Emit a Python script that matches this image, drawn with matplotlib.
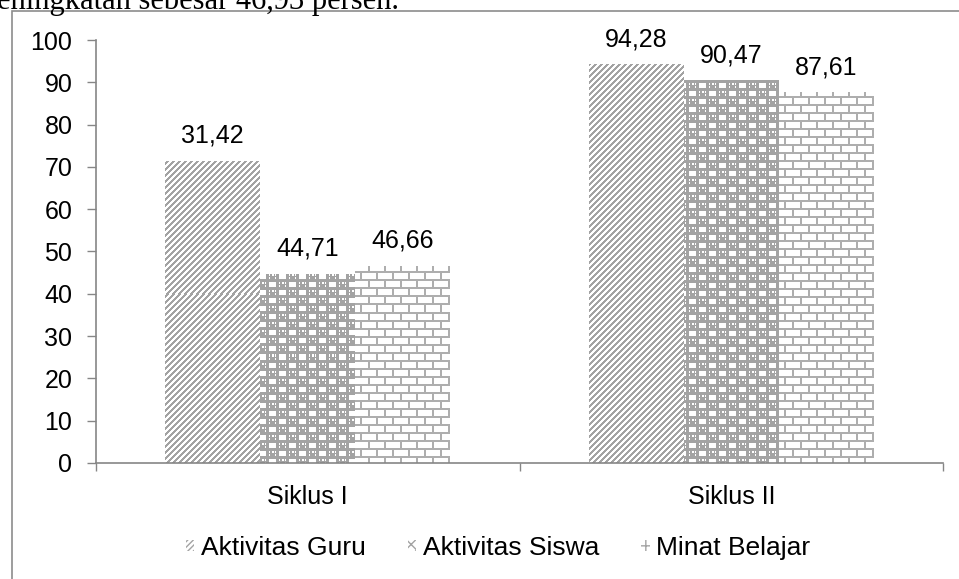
import numpy as np
import matplotlib
matplotlib.use('Agg')
import matplotlib.pyplot as plt
from matplotlib.patches import Rectangle

# Data
categories = ['Siklus I', 'Siklus II']
series_names = ['Aktivitas Guru', 'Aktivitas Siswa', 'Minat Belajar']
guru = [71.42, 94.28]
siswa = [44.71, 90.47]
minat = [46.66, 87.61]
# printed value labels (the first one is printed as 31,42 in the report)
label_guru = ['31,42', '94,28']
label_siswa = ['44,71', '90,47']
label_minat = ['46,66', '87,61']
y_ticks = list(range(0, 101, 10))

W, H, DPI = 959, 579, 100
GRAY = 0.64
AXIS_GRAY = '#868686'
FS = 18

plt.rcParams['font.family'] = ['Liberation Sans', 'DejaVu Sans']


def tile_diagonal(h, w):
    r, c = np.mgrid[0:h, 0:w]
    return np.where((r + c) % 6 < 3, GRAY, 1.0)


def tile_dots(h, w):
    # grey lattice, every other cell holding a round grey dot
    r, c = np.mgrid[0:h, 0:w]
    ch, cw = 8, 10
    lattice = (r % ch < 3) | (c % cw < 3)
    cell = ((r // ch) + (c // cw)) % 2 == 0
    dr = (r % ch) - 5
    dc = (c % cw) - 6
    dot = cell & (dr ** 2 + dc ** 2 < 10)
    shine = dot & (dr > -2.5) & (dr < -0.5) & (dc > -0.5) & (dc < 1.5)
    grey = (lattice | dot) & ~shine
    return np.where(grey, GRAY, 1.0)


def tile_brick(h, w):
    r, c = np.mgrid[0:h, 0:w]
    row = r % 16
    horiz = (row % 8) < 2
    vert = np.where(row < 8, c % 16 < 2, (c + 8) % 16 < 2)
    return np.where(horiz | vert, 0.68, 1.0)


fig = plt.figure(figsize=(W / DPI, H / DPI), dpi=DPI)
ax = fig.add_axes([96 / W, 1 - 463 / H, 847 / W, 423 / H])

x = np.arange(len(categories))
bw = 0.2243
xlim = (-0.5, len(categories) - 0.5)

groups = [(guru, label_guru, tile_diagonal),
          (siswa, label_siswa, tile_dots),
          (minat, label_minat, tile_brick)]

# axes size in pixels for the pattern images
aw, ah = 847, 423
for i, (vals, labels, tile) in enumerate(groups):
    bars = ax.bar(x + (i - 1) * bw, vals, bw, color='white', linewidth=0, zorder=2)
    pattern = tile(ah, aw)
    for bar, lab in zip(bars, labels):
        im = ax.imshow(pattern, cmap='gray', vmin=0, vmax=1, interpolation='nearest',
                       extent=(xlim[0], xlim[1], 0, 100), aspect='auto', zorder=3)
        im.set_clip_path(bar)
        ax.annotate(lab, (bar.get_x() + bar.get_width() / 2, bar.get_height()),
                    xytext=(0, 13), textcoords='offset points', ha='center', va='baseline',
                    fontsize=FS, color='black', zorder=4)

ax.set_aspect('auto')
ax.set_xlim(*xlim)
ax.set_ylim(0, 100)

for s in ['top', 'right']:
    ax.spines[s].set_visible(False)
for s in ['left', 'bottom']:
    ax.spines[s].set_color(AXIS_GRAY)
    ax.spines[s].set_linewidth(1.2)
    ax.spines[s].set_zorder(5)

ax.set_yticks(y_ticks)
ax.tick_params(axis='y', length=6.5, width=1.0, color=AXIS_GRAY, pad=10.5, labelsize=FS)
ax.set_xticks(x)
ax.set_xticklabels(categories)
ax.set_xticks(np.arange(xlim[0], xlim[1] + 0.5), minor=True)
ax.tick_params(axis='x', which='major', length=0, pad=16, labelsize=FS)
ax.tick_params(axis='x', which='minor', length=6, width=1.0, color=AXIS_GRAY)

# legend with hatched proxies
handles = [Rectangle((0, 0), 1, 1, facecolor='white', edgecolor='#a3a3a3', linewidth=0, hatch=h)
           for h in ['//////', 'xxx', '++']]
fig.legend(handles, series_names, loc='center', bbox_to_anchor=(498 / W, 1 - 548 / H),
           ncol=3, frameon=False, fontsize=19, handlelength=0.32, handleheight=0.32,
           handletextpad=0.25, columnspacing=1.6)

# chart frame
fig.add_artist(Rectangle((12 / W, -0.2), 1.2, 1.2 - 11 / H, transform=fig.transFigure,
                         fill=False, edgecolor='#8c8c8c', linewidth=1.2))

# running text above the chart
fig.text(-3 / W, 1 - 9 / H, 'eningkatan sebesar 46,93 persen.',
         family=['Liberation Serif', 'DejaVu Serif'], fontsize=22, va='baseline', ha='left')

fig.savefig('out.png', dpi=DPI)
